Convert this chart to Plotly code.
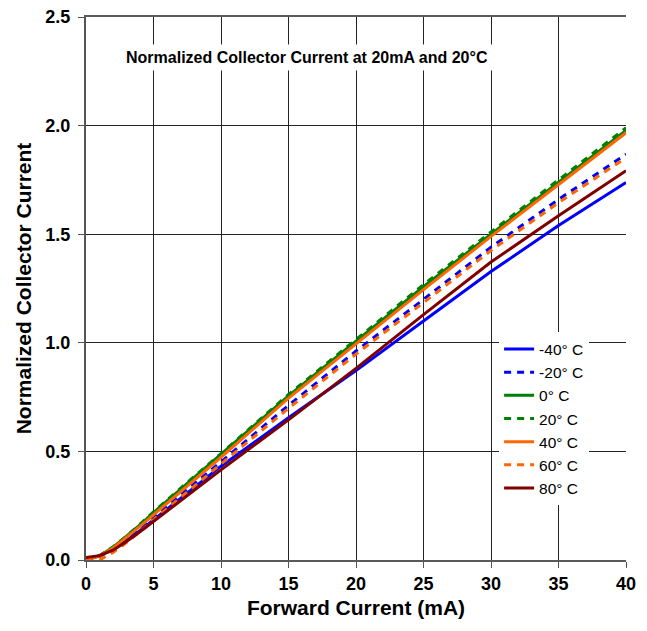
import plotly.graph_objects as go

current_ma = [0, 1, 2, 3, 4, 5, 7.5, 10, 15, 20, 25, 30, 35, 40]

series_names = ["-40° C", "-20° C", "0° C", "20° C", "40° C", "60° C", "80° C"]

t_m40 = [0, 0.02, 0.05, 0.09, 0.135, 0.184, 0.31, 0.432, 0.655, 0.872, 1.1, 1.328, 1.54, 1.738]
t_m20 = [0, 0.016, 0.05, 0.096, 0.146, 0.198, 0.325, 0.452, 0.712, 0.962, 1.2, 1.44, 1.66, 1.868]
t_0 = [0, 0.02, 0.058, 0.108, 0.162, 0.218, 0.352, 0.485, 0.755, 1.007, 1.258, 1.5, 1.74, 1.978]
t_20 = [0, 0.02, 0.06, 0.11, 0.165, 0.222, 0.357, 0.49, 0.762, 1.015, 1.268, 1.51, 1.752, 1.99]
t_40 = [0, 0.018, 0.055, 0.103, 0.155, 0.208, 0.341, 0.473, 0.745, 0.995, 1.245, 1.49, 1.73, 1.967]
t_60 = [None, 0, 0.035, 0.08, 0.13, 0.185, 0.315, 0.442, 0.698, 0.948, 1.185, 1.425, 1.645, 1.852]
t_80 = [0.012, 0.02, 0.045, 0.085, 0.13, 0.178, 0.295, 0.415, 0.645, 0.882, 1.13, 1.372, 1.585, 1.792]

series_values = [t_m40, t_m20, t_0, t_20, t_40, t_60, t_80]
series_colors = ["#0000FF", "#0000FF", "#008000", "#008000", "#FF6600", "#FF6600", "#800000"]
series_dash = ["solid", "7px,6px", "solid", "7px,6px", "solid", "7px,6px", "solid"]

x_ticks = [0, 5, 10, 15, 20, 25, 30, 35, 40]
y_ticks = [0.0, 0.5, 1.0, 1.5, 2.0, 2.5]

FONT = "Arial, 'Liberation Sans', sans-serif"

fig = go.Figure()
for name, vals, col, dsh in zip(series_names, series_values, series_colors, series_dash):
    fig.add_trace(go.Scatter(
        x=current_ma, y=vals, mode="lines", name=name,
        line=dict(color=col, width=3, dash=dsh),
        legendgroup=name,
        connectgaps=False,
    ))

fig.update_layout(
    width=631, height=615,
    margin=dict(l=78, r=13, t=9, b=63, autoexpand=False),
    paper_bgcolor="white", plot_bgcolor="white",
    font=dict(family=FONT, color="black"),
    showlegend=True,
    legend=dict(
        x=0.765, y=0.419, xanchor="left", yanchor="top",
        bgcolor="white", borderwidth=0,
        font=dict(family=FONT, size=15.5, color="black"),
        tracegroupgap=0,
    ),
    annotations=[dict(
        text="<b>Normalized Collector Current at 20mA and 20°C</b>",
        xref="paper", yref="paper", x=0.409, y=0.926,
        xanchor="center", yanchor="middle", showarrow=False,
        font=dict(family=FONT, size=16, color="black"),
        bgcolor="white", borderpad=4,
    )],
)

fig.update_xaxes(
    range=[0, 40], tickvals=x_ticks, ticktext=[str(v) for v in x_ticks],
    showgrid=True, gridcolor="#222222", gridwidth=1,
    showline=True, linecolor="#5a5a5a", linewidth=2, mirror=True,
    ticks="outside", ticklen=6, tickcolor="#555555", tickwidth=1,
    tickfont=dict(family=FONT, size=18, weight="bold"),
    ticklabeloverflow="allow",
    title=dict(text="Forward Current (mA)", font=dict(family=FONT, size=21, weight="bold"), standoff=8),
    zeroline=False, automargin=False,
)
fig.update_yaxes(
    range=[0, 2.5], tickvals=y_ticks, ticktext=[f"{v:.1f}" for v in y_ticks],
    showgrid=True, gridcolor="#222222", gridwidth=1,
    showline=True, linecolor="#555555", linewidth=2,
    ticks="outside", ticklen=6, tickcolor="#555555", tickwidth=1,
    ticklabelstandoff=4, ticklabeloverflow="allow",
    tickfont=dict(family=FONT, size=18, weight="bold"),
    title=dict(text="Normalized Collector Current", font=dict(family=FONT, size=21, weight="bold"), standoff=8),
    zeroline=False, automargin=False,
)

fig.write_html("out.html")
